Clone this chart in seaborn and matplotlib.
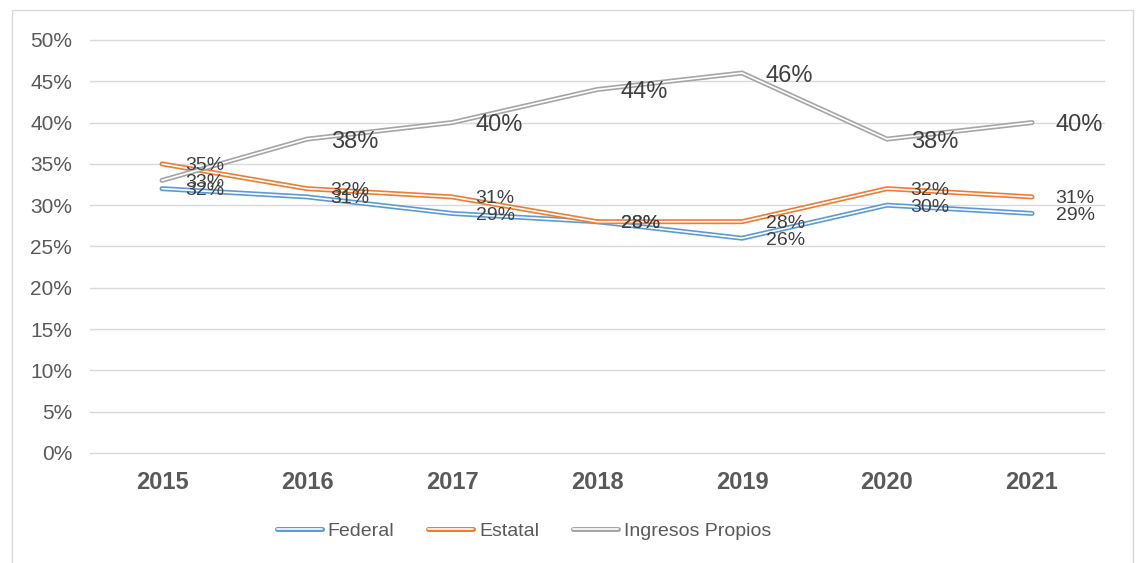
import pandas as pd
import seaborn as sns
import matplotlib.pyplot as plt
import matplotlib.patheffects as pe
from matplotlib.lines import Line2D
from matplotlib.patches import Rectangle
from matplotlib.ticker import PercentFormatter

# Chart data (shares of income by source)
years = ["2015", "2016", "2017", "2018", "2019", "2020", "2021"]
federal = [0.32, 0.31, 0.29, 0.28, 0.26, 0.30, 0.29]
estatal = [0.35, 0.32, 0.31, 0.28, 0.28, 0.32, 0.31]
propios = [0.33, 0.38, 0.40, 0.44, 0.46, 0.38, 0.40]
series_names = ["Federal", "Estatal", "Ingresos Propios"]
colors = ["#5b9bd5", "#ed7d31", "#a5a5a5"]

df = pd.DataFrame({
    "year": years * 3,
    "value": federal + estatal + propios,
    "serie": [s for s in series_names for _ in years],
})

sns.set_style("white")
plt.rcParams["font.family"] = ["Liberation Sans", "DejaVu Sans"]

fig = plt.figure(figsize=(11.39, 5.63), dpi=100)
ax = fig.add_axes([0.0786, 0.1954, 0.8911, 0.7336])

sns.lineplot(data=df, x="year", y="value", hue="serie", palette=colors,
             sort=False, legend=False, ax=ax)


def double_line(color):
    # Excel style double line: coloured outline with a white core
    return [pe.Stroke(linewidth=3.6, foreground=color, capstyle="round",
                      joinstyle="miter"), pe.Normal()]


for line, color in zip(ax.lines, colors):
    line.set_color("white")
    line.set_linewidth(1.2)
    line.set_solid_capstyle("round")
    line.set_path_effects(double_line(color))
    line.set_zorder(3)

# data labels to the right of each point
for name in series_names:
    sub = df[df["serie"] == name]
    for i, v in enumerate(sub["value"]):
        size = 17 if (name == "Ingresos Propios" and i > 0) else 14
        ax.annotate(f"{v * 100:.0f}%", (i, v), xytext=(17, 0),
                    textcoords="offset points", ha="left",
                    va="center_baseline", fontsize=size, color="#404040",
                    zorder=4)

ax.set_xlim(-0.5, 6.5)
ax.set_ylim(0, 0.5)
ax.set_yticks([i / 100 for i in range(0, 51, 5)])
ax.yaxis.set_major_formatter(PercentFormatter(1.0, decimals=0))
ax.grid(axis="y", color="#d9d9d9", linewidth=1.0)
ax.grid(axis="x", visible=False)
ax.set_axisbelow(True)
for gl in ax.get_ygridlines():
    gl.set_clip_on(False)
for s in ax.spines.values():
    s.set_visible(False)
ax.tick_params(axis="y", length=0, pad=12.5, labelsize=15, labelcolor="#595959")
ax.tick_params(axis="x", length=0, pad=13, labelsize=17, labelcolor="#595959")
for t in ax.get_xticklabels():
    t.set_fontweight("bold")
ax.set_xlabel("")
ax.set_ylabel("")

# outer chart border
fig.patches.append(Rectangle((12 / 1139, -0.05), 1121 / 1139, 1.05 - 10 / 563,
                             transform=fig.transFigure, fill=False,
                             edgecolor="#d9d9d9", linewidth=1))

handles = []
for name, color in zip(series_names, colors):
    h = Line2D([0], [0], color="white", linewidth=1.2, solid_capstyle="round",
               label=name)
    h.set_path_effects(double_line(color))
    handles.append(h)
fig.legend(handles=handles, loc="center", bbox_to_anchor=(524 / 1139, 1 - 531 / 563),
           ncol=3, frameon=False, fontsize=14, handlelength=2.3,
           handletextpad=0.3, columnspacing=1.75, labelcolor="#595959")

fig.savefig("out.png", dpi=100)
